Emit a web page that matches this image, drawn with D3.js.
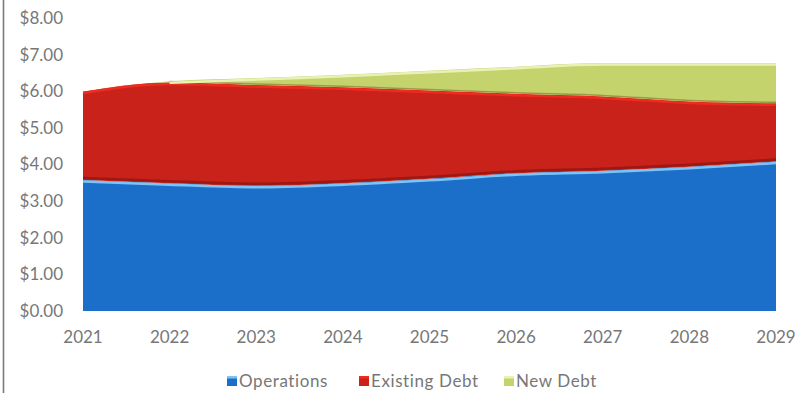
<!DOCTYPE html>
<html>
<head>
<meta charset="utf-8">
<script src="https://cdn.jsdelivr.net/npm/d3@7"></script>
<style>
  html, body { margin: 0; padding: 0; background: #ffffff; }
  svg { display: block; }
</style>
</head>
<body>
<svg id="chart" width="810" height="393"></svg>
<script>
const years = ["2021", "2022", "2023", "2024", "2025", "2026", "2027", "2028", "2029"];
const operations = [3.58, 3.49, 3.42, 3.49, 3.61, 3.76, 3.83, 3.94, 4.08];
const existingDebt = [2.41, 2.75, 2.75, 2.62, 2.41, 2.17, 2.03, 1.78, 1.59];
const newDebt = [0.00, 0.03, 0.19, 0.34, 0.54, 0.74, 0.91, 1.05, 1.10];
const yTicks = [0, 1, 2, 3, 4, 5, 6, 7, 8];
const seriesNames = ["Operations", "Existing Debt", "New Debt"];

const colors = {
  "Operations": "#1b6fc8",
  "Existing Debt": "#c8221b",
  "New Debt": "#c4d36c"
};
const topHighlight = {
  "Operations": "#7cc3f7",
  "Existing Debt": "#ef2a1f",
  "New Debt": "#eaf1b6"
};

const svg = d3.select("#chart");
const font = "Lato, 'Open Sans', 'Liberation Sans', sans-serif";
const textColor = "#777777";

// left border line
svg.append("line")
  .attr("x1", 3.5).attr("x2", 3.5).attr("y1", 0).attr("y2", 393)
  .attr("stroke", "#7a7a7a").attr("stroke-width", 1.6);

const x = d3.scalePoint().domain(years).range([83, 776]);
const y = d3.scaleLinear().domain([0, 8]).range([311, 18]);

const table = years.map((yr, i) => ({
  year: yr,
  "Operations": operations[i],
  "Existing Debt": existingDebt[i],
  "New Debt": newDebt[i]
}));

const stack = d3.stack().keys(seriesNames);
const layers = stack(table);

const curve = d3.curveMonotoneX;
const area = d3.area()
  .x(d => x(d.data.year))
  .y0(d => y(d[0]))
  .y1(d => y(d[1]))
  .curve(curve);
const topLine = d3.line()
  .x(d => x(d.data.year))
  .y(d => y(d[1]))
  .curve(curve);
const bottomLine = d3.line()
  .x(d => x(d.data.year))
  .y(d => y(d[0]))
  .curve(curve);

const g = svg.append("g");
layers.forEach(layer => {
  g.append("path")
    .datum(layer)
    .attr("d", area)
    .attr("fill", colors[layer.key]);
});

// shading along the lower edge of the upper layers
g.append("path").datum(layers[1])
  .attr("d", bottomLine)
  .attr("transform", "translate(0,-2)")
  .attr("fill", "none").attr("stroke", "#8e1712").attr("stroke-width", 2.5).attr("opacity", 0.75);
g.append("path").datum(layers[2].filter((d, i) => i >= 1))
  .attr("d", bottomLine)
  .attr("transform", "translate(0,-1)")
  .attr("fill", "none").attr("stroke", "#8d7f38").attr("stroke-width", 1.5).attr("opacity", 0.7);

// top highlights
layers.forEach((layer, li) => {
  const pts = li === 2 ? layer.filter((d, i) => i >= 1) : layer;
  g.append("path").datum(pts)
    .attr("d", topLine)
    .attr("transform", "translate(0,1.5)")
    .attr("fill", "none")
    .attr("stroke", topHighlight[layer.key])
    .attr("stroke-width", 2.5);
});

// y axis labels
svg.append("g").selectAll("text")
  .data(yTicks)
  .join("text")
  .attr("x", 63)
  .attr("y", d => y(d))
  .attr("dy", "0.35em")
  .attr("text-anchor", "end")
  .attr("font-family", font)
  .attr("font-size", 17)
  .attr("fill", textColor)
  .text(d => "$" + d.toFixed(2));

// x axis labels
svg.append("g").selectAll("text")
  .data(years)
  .join("text")
  .attr("x", d => x(d))
  .attr("y", 343)
  .attr("text-anchor", "middle")
  .attr("font-family", font)
  .attr("font-size", 17)
  .attr("fill", textColor)
  .text(d => d);

// legend
const legendItems = [
  { name: "Operations", x: 227 },
  { name: "Existing Debt", x: 359 },
  { name: "New Debt", x: 504 }
];
const lg = svg.append("g");
legendItems.forEach(item => {
  lg.append("rect")
    .attr("x", item.x).attr("y", 376)
    .attr("width", 10).attr("height", 10)
    .attr("fill", colors[item.name]);
  lg.append("rect")
    .attr("x", item.x).attr("y", 376)
    .attr("width", 10).attr("height", 2.5)
    .attr("fill", topHighlight[item.name]);
  lg.append("text")
    .attr("x", item.x + 12)
    .attr("y", 381)
    .attr("dy", "0.35em")
    .attr("font-family", font)
    .attr("font-size", 17)
    .attr("letter-spacing", "0.6px")
    .attr("fill", textColor)
    .text(item.name);
});
</script>
</body>
</html>
